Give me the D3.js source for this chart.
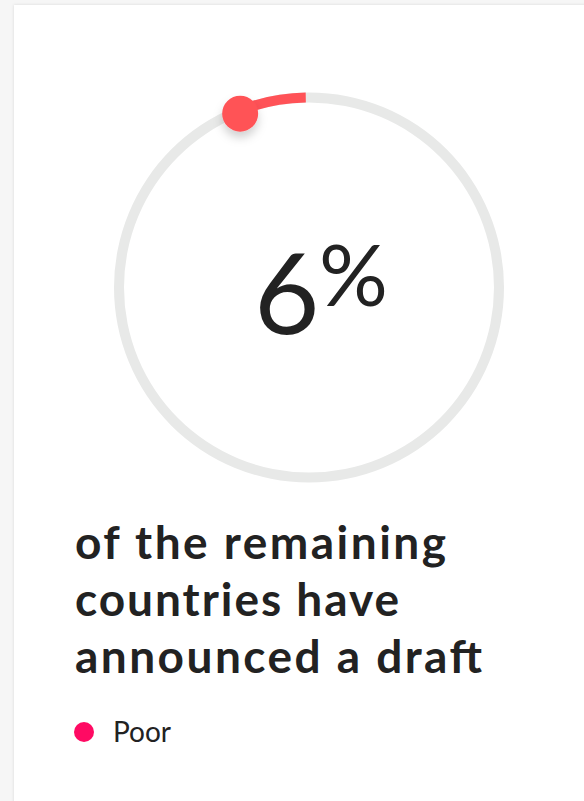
<!DOCTYPE html>
<html>
<head>
<meta charset="utf-8">
<script src="https://cdn.jsdelivr.net/npm/d3@7"></script>
<style>
  html, body { margin: 0; padding: 0; background: #f6f6f6; }
  #wrapper { width: 584px; height: 801px; overflow: hidden; }
</style>
</head>
<body>
<div id="wrapper"></div>
<script>
// data
const percent = [6]
const headline = ["of the remaining", "countries have", "announced a draft"]
const headlineWidths = [371, 324, 407]
const legendLabels = ["Poor"]
const legendColors = ["#ff0a63"]

const width = 584
const height = 801
const cx = 309, cy = 287.5
const radius = 190
const ring = 10

const svg = d3.select("#wrapper").append("svg")
    .attr("width", width)
    .attr("height", height)
    .style("font-family", "Lato, 'Open Sans', sans-serif")

const defs = svg.append("defs")
const card = defs.append("filter").attr("id", "card").attr("x", -0.1).attr("y", -0.1).attr("width", 1.2).attr("height", 1.2)
card.append("feDropShadow").attr("dx", 0).attr("dy", 0).attr("stdDeviation", 1.5).attr("flood-color", "#000").attr("flood-opacity", 0.12)
const dotShadow = defs.append("filter").attr("id", "dotShadow").attr("x", -1).attr("y", -1).attr("width", 3).attr("height", 3)
dotShadow.append("feDropShadow").attr("dx", 0).attr("dy", 6).attr("stdDeviation", 5).attr("flood-color", "#000").attr("flood-opacity", 0.18)

// card
svg.append("rect")
    .attr("x", 14).attr("y", 5)
    .attr("width", width + 20).attr("height", height + 20)
    .attr("fill", "#fff")
    .attr("filter", "url(#card)")

// angle scale: progress goes counter-clockwise from the top
const angle = d3.scaleLinear().domain([0, 100]).range([0, -2 * Math.PI])

const g = svg.append("g").attr("transform", `translate(${cx},${cy})`)

const arc = d3.arc()
    .innerRadius(radius - ring / 2)
    .outerRadius(radius + ring / 2)

g.append("path")
    .attr("d", arc({ startAngle: 0, endAngle: 2 * Math.PI }))
    .attr("fill", "#e8e9e8")

g.selectAll(".progress")
    .data(percent)
    .join("path")
    .attr("class", "progress")
    .attr("d", d => arc({ startAngle: angle(d), endAngle: angle(0) - 0.017 }))
    .attr("fill", "#ff5257")

g.selectAll(".knob")
    .data(percent)
    .join("circle")
    .attr("class", "knob")
    .attr("cx", d => (radius - 3) * Math.sin(angle(d)))
    .attr("cy", d => -(radius - 3) * Math.cos(angle(d)))
    .attr("r", 18)
    .attr("fill", "#ff5257")
    .attr("filter", "url(#dotShadow)")

// big number
g.selectAll(".num")
    .data(percent)
    .join("text")
    .attr("class", "num")
    .attr("x", -55)
    .attr("y", 46)
    .attr("fill", "#222")
    .style("font-weight", 400)
    .style("font-size", "113px")
    .text(d => d)

g.append("text")
    .attr("x", 10)
    .attr("y", 18)
    .attr("fill", "#222")
    .style("font-weight", 400)
    .style("font-size", "86px")
    .text("%")

// headline
svg.selectAll(".headline")
    .data(headline)
    .join("text")
    .attr("class", "headline")
    .attr("x", 75)
    .attr("y", (d, i) => 559 + i * 57)
    .attr("fill", "#222")
    .style("font-weight", 700)
    .style("font-size", "46px")
    .attr("textLength", (d, i) => headlineWidths[i])
    .attr("lengthAdjust", "spacing")
    .text(d => d)

// legend
const legend = svg.selectAll(".legend")
    .data(legendLabels)
    .join("g")
    .attr("class", "legend")
    .attr("transform", (d, i) => `translate(84,${732 + i * 40})`)

legend.append("circle")
    .attr("r", 10)
    .attr("fill", (d, i) => legendColors[i])

legend.append("text")
    .attr("x", 29)
    .attr("y", 10)
    .attr("fill", "#222")
    .style("font-size", "28px")
    .text(d => d)
</script>
</body>
</html>
